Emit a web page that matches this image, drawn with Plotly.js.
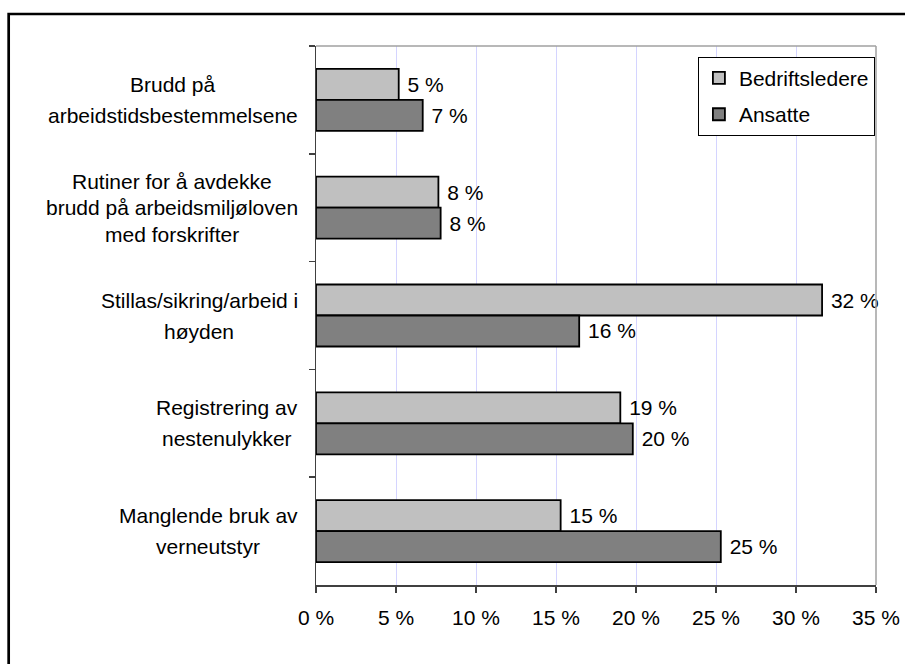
<!DOCTYPE html>
<html>
<head>
<meta charset="utf-8">
<script src="https://cdn.plot.ly/plotly-3.0.1.min.js"></script>
<style>html,body{margin:0;padding:0;background:#fff;overflow:hidden}</style>
</head>
<body>
<div id="chart" style="width:905px;height:664px"></div>
<script>
// Categories (top to bottom) and their wrapped label lines
const categories = [
  "Brudd på arbeidstidsbestemmelsene",
  "Rutiner for å avdekke brudd på arbeidsmiljøloven med forskrifter",
  "Stillas/sikring/arbeid i høyden",
  "Registrering av nestenulykker",
  "Manglende bruk av verneutstyr"
];
const categoryLines = [
  ["Brudd på", "arbeidstidsbestemmelsene"],
  ["Rutiner for å avdekke", "brudd på arbeidsmiljøloven", "med forskrifter"],
  ["Stillas/sikring/arbeid i", "høyden"],
  ["Registrering av", "nestenulykker"],
  ["Manglende bruk av", "verneutstyr"]
];
const seriesNames = ["Bedriftsledere", "Ansatte"];
const bedriftsledere = [5.17, 7.65, 31.63, 19.02, 15.29];
const ansatte = [6.67, 7.79, 16.45, 19.80, 25.30];
const xTickVals = [0, 5, 10, 15, 20, 25, 30, 35];
const xTickText = ["0 %", "5 %", "10 %", "15 %", "20 %", "25 %", "30 %", "35 %"];

const FONT = "Liberation Sans, Arial, sans-serif";
const FS = 21;

function barTrace(name, values, color, group) {
  return {
    type: "bar",
    orientation: "h",
    name: name,
    x: values,
    y: categories,
    legendgroup: group,
    marker: {color: color, line: {color: "#000", width: 1.8}},
    texttemplate: "\u00a0%{x:.0f} %",
    textposition: "outside",
    constraintext: "none",
    cliponaxis: false,
    textfont: {family: FONT, size: FS, color: "#000"},
    hoverinfo: "skip"
  };
}

const data = [
  barTrace(seriesNames[0], bedriftsledere, "#C0C0C0", "g1"),
  barTrace(seriesNames[1], ansatte, "#808080", "g2")
];

// category labels (centered block, right edge left of axis)
const annotations = [];
categories.forEach((c, ci) => {
  const lines = categoryLines[ci];
  const spacing = lines.length === 3 ? 26.7 : 31;
  const mid = (lines.length - 1) / 2;
  lines.forEach((ln, li) => {
    annotations.push({
      xref: "paper", yref: "y", x: -0.0286, y: c,
      xanchor: "right", yanchor: "middle", align: "center",
      text: ln, showarrow: false,
      yshift: (mid - li) * spacing,
      font: {family: FONT, size: FS, color: "#000"}
    });
  });
});

const layout = {
  width: 905, height: 664,
  margin: {l: 316, r: 29, t: 46, b: 79, pad: 0},
  paper_bgcolor: "#fff", plot_bgcolor: "#fff",
  font: {family: FONT, size: FS, color: "#000"},
  barmode: "group",
  bargap: 0.425,
  bargroupgap: 0,
  showlegend: true,
  legend: {
    x: 0.682, y: 0.98, xanchor: "left", yanchor: "top",
    bgcolor: "#fff", bordercolor: "#000", borderwidth: 1,
    font: {family: FONT, size: FS, color: "#000"},
    traceorder: "grouped", tracegroupgap: 6
  },
  xaxis: {
    range: [0, 35],
    tickvals: xTickVals, ticktext: xTickText,
    ticks: "outside", ticklen: 6, tickwidth: 1.5, tickcolor: "#404040",
    ticklabelstandoff: 7,
    showline: true, linecolor: "#404040", linewidth: 1.5,
    showgrid: true, gridcolor: "#D4D4FF", gridwidth: 1,
    zeroline: false, fixedrange: true,
    tickfont: {family: FONT, size: FS, color: "#000"}
  },
  yaxis: {
    type: "category",
    categoryorder: "array", categoryarray: categories,
    autorange: "reversed",
    showticklabels: false,
    ticks: "outside", tickson: "boundaries", ticklen: 6, tickwidth: 1.5, tickcolor: "#404040",
    showline: true, linecolor: "#404040", linewidth: 1.5,
    showgrid: false, zeroline: false, fixedrange: true
  },
  annotations: annotations,
  shapes: [
    {type: "line", xref: "paper", yref: "paper", x0: 0, x1: 1, y0: 1, y1: 1,
     line: {color: "#A0A0A0", width: 1.5}, layer: "above"},
    {type: "line", xref: "paper", yref: "paper", x0: 1, x1: 1, y0: 0, y1: 1,
     line: {color: "#A0A0A0", width: 1.5}, layer: "above"},
    {type: "rect", xref: "paper", yref: "paper",
     x0: -0.5488, x1: 1.07, y0: -0.17, y1: 1.0594,
     line: {color: "#000", width: 2.7}, fillcolor: "rgba(0,0,0,0)", layer: "above"}
  ]
};

Plotly.newPlot("chart", data, layout, {staticPlot: true, displayModeBar: false}).then(gd => {
  // center the lines of each label block on the block's widest line
  const anns = gd.querySelectorAll(".annotation");
  let idx = 0;
  const newAnns = layout.annotations.map(a => Object.assign({}, a));
  const widths = [];
  anns.forEach(a => {
    const t = a.querySelector("text");
    widths.push(t ? t.getBBox().width : 0);
  });
  categories.forEach((c, ci) => {
    const n = categoryLines[ci].length;
    const w = widths.slice(idx, idx + n);
    const maxW = Math.max.apply(null, w);
    for (let k = 0; k < n; k++) {
      newAnns[idx + k].xshift = -(maxW - w[k]) / 2;
    }
    idx += n;
  });
  Plotly.relayout(gd, {annotations: newAnns});
});
</script>
</body>
</html>
